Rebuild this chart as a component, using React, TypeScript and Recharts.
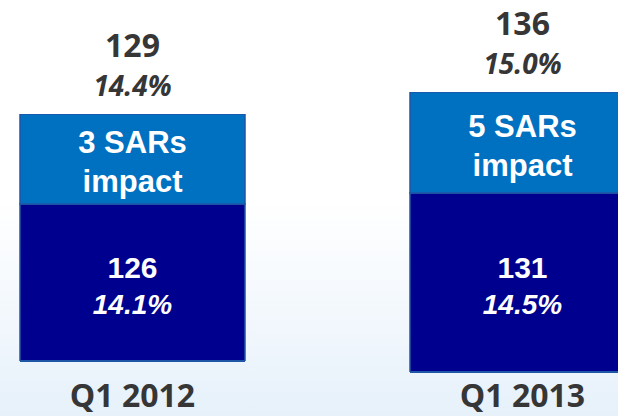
import React from 'react';
import { BarChart, Bar, XAxis, YAxis, LabelList } from 'recharts';

// ---- data ----
const categories = ['Q1 2012', 'Q1 2013'];
const baseValues = [126, 131];
const basePct = [14.1, 14.5];
const sarCount = [3, 5];
const impactValues = [3, 5];
const totalValues = [129, 136];
const totalPct = [14.4, 15.0];

// ---- styles ----
const DARK = '#00008E';
const LIGHT = '#0070C0';
const BORDER = '#1F56A5';
const TEXT_DARK = '#363636';
const OUTER_FONT = '"Open Sans", "DejaVu Sans", sans-serif';
const INNER_FONT = '"Liberation Sans", Arial, sans-serif';
const H = 416;
const LABEL_BASELINE = 407;

// each bar is drawn on its own truncated (not-to-scale) axis, as in the slide
const panels = [
  { left: 18, top: 114, bottom: 361, domain: [120.77, 129] as [number, number] },
  { left: 408, top: 92, bottom: 372, domain: [122.14, 136] as [number, number] },
];

const box = (p: any) => {
  const vb = p.viewBox ?? p;
  return { x: Number(vb.x ?? p.x), y: Number(vb.y ?? p.y), width: Number(vb.width ?? p.width), height: Number(vb.height ?? p.height) };
};

function Panel({ i }: { i: number }) {
  const layout = panels[i];
  const data = [
    {
      cat: categories[i],
      base: baseValues[i],
      basePct: basePct[i],
      impact: impactValues[i],
      sars: sarCount[i],
      total: totalValues[i],
      totalPct: totalPct[i],
    },
  ];
  const plotBottom = layout.bottom;

  const renderTick = (p: any) => (
    <text
      x={p.x}
      y={LABEL_BASELINE}
      textAnchor="middle"
      fontFamily={OUTER_FONT}
      fontWeight={700}
      fontSize={32}
      fill={TEXT_DARK}
    >
      {p.payload.value}
    </text>
  );

  const topTotal = (p: any) => {
    const b = box(p);
    return (
      <text x={b.x + b.width / 2} y={b.y - 57} textAnchor="middle" fontFamily={OUTER_FONT} fontWeight={700} fontSize={32} fill={TEXT_DARK}>
        {p.value}
      </text>
    );
  };
  const topPct = (p: any) => {
    const b = box(p);
    return (
      <text x={b.x + b.width / 2} y={b.y - 18} textAnchor="middle" fontFamily={OUTER_FONT} fontWeight={700} fontStyle="italic" fontSize={28} fill={TEXT_DARK}>
        {Number(p.value).toFixed(1)}%
      </text>
    );
  };
  const sarLabel = (p: any) => {
    const b = box(p);
    const cx = b.x + b.width / 2;
    const cy = b.y + b.height / 2;
    return (
      <g>
        <text x={cx} y={cy - 6} textAnchor="middle" fontFamily={INNER_FONT} fontWeight={700} fontSize={31} fill="#ffffff">
          {p.value} SARs
        </text>
        <text x={cx} y={cy + 33} textAnchor="middle" fontFamily={INNER_FONT} fontWeight={700} fontSize={31} fill="#ffffff">
          impact
        </text>
      </g>
    );
  };
  const baseVal = (p: any) => {
    const b = box(p);
    const cy = (b.y + plotBottom) / 2;
    return (
      <text x={b.x + b.width / 2} y={cy - 5} textAnchor="middle" fontFamily={INNER_FONT} fontWeight={700} fontSize={30} fill="#ffffff">
        {p.value}
      </text>
    );
  };
  const basePctLabel = (p: any) => {
    const b = box(p);
    const cy = (b.y + plotBottom) / 2;
    return (
      <text x={b.x + b.width / 2} y={cy + 31.5} textAnchor="middle" fontFamily={INNER_FONT} fontWeight={700} fontStyle="italic" fontSize={28} fill="#ffffff">
        {Number(p.value).toFixed(1)}%
      </text>
    );
  };

  return (
    <div style={{ position: 'absolute', left: layout.left, top: 0 }}>
      <BarChart
        width={229}
        height={H}
        data={data}
        margin={{ top: layout.top, right: 2, left: 2, bottom: 0 }}
        barCategoryGap={0}
        style={{ overflow: 'visible' }}
      >
        <XAxis
          dataKey="cat"
          height={H - layout.bottom}
          tickSize={0}
          tickMargin={0}
          tickLine={false}
          axisLine={{ stroke: BORDER, strokeWidth: 2 }}
          tick={renderTick}
          interval={0}
        />
        <YAxis hide type="number" domain={layout.domain} allowDataOverflow />
        <Bar dataKey="base" stackId="s" fill={DARK} stroke={BORDER} strokeWidth={1.5} isAnimationActive={false}>
          <LabelList dataKey="base" content={baseVal} />
          <LabelList dataKey="basePct" content={basePctLabel} />
        </Bar>
        <Bar dataKey="impact" stackId="s" fill={LIGHT} stroke={BORDER} strokeWidth={1.5} isAnimationActive={false}>
          <LabelList dataKey="sars" content={sarLabel} />
          <LabelList dataKey="total" content={topTotal} />
          <LabelList dataKey="totalPct" content={topPct} />
        </Bar>
      </BarChart>
    </div>
  );
}

export default function App() {
  return (
    <div
      style={{
        position: 'fixed',
        left: 0,
        top: 0,
        width: 618,
        height: H,
        overflow: 'hidden',
        background: 'linear-gradient(to bottom, #ffffff 0%, #ffffff 48%, #f3f8fd 75%, #e6f1fa 100%)',
      }}
    >
      <Panel i={0} />
      <Panel i={1} />
    </div>
  );
}
